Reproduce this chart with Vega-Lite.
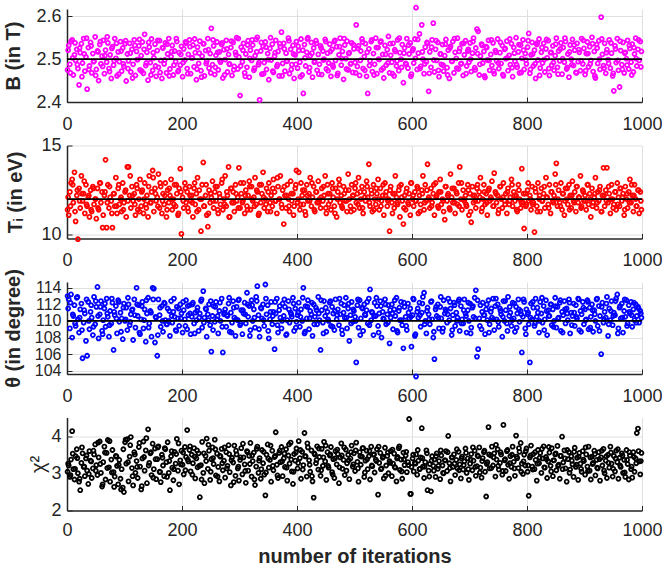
{
"$schema": "https://vega.github.io/schema/vega-lite/v6.json",
"background": "white",
"padding": {"left": 3, "top": 2, "right": 5, "bottom": 5},
"spacing": 43.5,
"bounds": "flush",
"config": {
  "view": {"stroke": null},
  "font": "Liberation Sans",
  "axis": {
    "labelFont": "Liberation Sans", "labelFontSize": 18, "labelColor": "#262626",
    "titleFont": "Liberation Sans", "titleFontSize": 20, "titleColor": "#262626", "titleFontWeight": "bold",
    "domainColor": "#262626", "domainWidth": 1.5, "tickColor": "#262626", "tickSize": -5, "tickWidth": 1,
    "gridColor": "#dfdfdf", "gridWidth": 1, "labelFlush": false, "labelBound": false, "grid": true, "tickCount": 12
  },
  "axisY": {"titleBaseline": "middle", "titleAngle": -90},
  "point": {"shape": "circle", "filled": false, "size": 16, "strokeWidth": 1.8, "opacity": 1}
},
"datasets": {"runs": [
{"i":1,"b":2.475,"t":11.4,"h":113.0,"c":3.05},{"i":3,"b":2.532,"t":11.1,"h":112.6,"c":3.22},{"i":5,"b":2.488,"t":12.4,"h":109.1,"c":2.91},{"i":7,"b":2.541,"t":12.9,"h":113.2,"c":3.38},{"i":9,"b":2.545,"t":13.1,"h":108.0,"c":4.15},
{"i":11,"b":2.463,"t":11.8,"h":110.6,"c":3.12},{"i":13,"b":2.510,"t":13.5,"h":111.9,"c":2.84},{"i":15,"b":2.497,"t":10.75,"h":109.4,"c":3.47},{"i":17,"b":2.523,"t":12.2,"h":112.8,"c":3.66},{"i":19,"b":2.478,"t":9.75,"h":110.2,"c":3.01},
{"i":21,"b":2.440,"t":12.6,"h":108.6,"c":2.78},{"i":23,"b":2.515,"t":11.5,"h":111.4,"c":2.55},{"i":25,"b":2.536,"t":13.3,"h":112.1,"c":3.29},{"i":27,"b":2.491,"t":11.9,"h":105.5,"c":3.55},{"i":29,"b":2.548,"t":12.3,"h":109.8,"c":3.18},
{"i":31,"b":2.472,"t":11.2,"h":110.9,"c":2.93},{"i":33,"b":2.505,"t":12.8,"h":107.6,"c":3.41},{"i":35,"b":2.430,"t":11.6,"h":105.8,"c":3.08},{"i":37,"b":2.527,"t":12.1,"h":112.3,"c":2.72},{"i":39,"b":2.484,"t":11.0,"h":109.0,"c":3.61},
{"i":41,"b":2.539,"t":12.5,"h":111.1,"c":3.35},{"i":43,"b":2.468,"t":11.3,"h":110.4,"c":2.88},{"i":45,"b":2.513,"t":12.7,"h":108.3,"c":3.14},{"i":47,"b":2.495,"t":11.7,"h":112.9,"c":3.52},{"i":49,"b":2.552,"t":12.0,"h":109.6,"c":3.79},
{"i":51,"b":2.476,"t":10.9,"h":111.7,"c":3.23},{"i":53,"b":2.519,"t":12.6,"h":114.1,"c":2.96},{"i":55,"b":2.450,"t":11.4,"h":107.9,"c":3.44},{"i":57,"b":2.534,"t":12.9,"h":110.8,"c":3.87},{"i":59,"b":2.489,"t":11.8,"h":112.4,"c":3.02},
{"i":61,"b":2.507,"t":12.4,"h":108.8,"c":2.65},{"i":63,"b":2.544,"t":11.1,"h":110.1,"c":3.31},{"i":65,"b":2.466,"t":12.2,"h":111.5,"c":3.73},{"i":67,"b":2.521,"t":14.2,"h":109.3,"c":2.84},{"i":69,"b":2.493,"t":10.4,"h":112.7,"c":3.56},
{"i":71,"b":2.538,"t":12.8,"h":110.5,"c":3.91},{"i":73,"b":2.478,"t":11.5,"h":108.1,"c":3.17},{"i":75,"b":2.510,"t":12.1,"h":111.2,"c":2.78},{"i":77,"b":2.455,"t":11.9,"h":109.7,"c":3.38},{"i":79,"b":2.529,"t":10.4,"h":112.2,"c":3.64},
{"i":81,"b":2.486,"t":12.3,"h":106.5,"c":3.04},{"i":83,"b":2.548,"t":11.6,"h":110.7,"c":2.92},{"i":85,"b":2.502,"t":13.2,"h":111.8,"c":3.48},{"i":87,"b":2.461,"t":11.2,"h":108.5,"c":3.21},{"i":89,"b":2.517,"t":12.6,"h":112.5,"c":2.71},
{"i":91,"b":2.494,"t":11.7,"h":109.9,"c":3.37},{"i":93,"b":2.541,"t":12.0,"h":111.0,"c":2.86},{"i":95,"b":2.472,"t":11.3,"h":110.3,"c":3.12},{"i":97,"b":2.526,"t":12.9,"h":107.8,"c":2.62},{"i":99,"b":2.483,"t":11.8,"h":112.1,"c":2.50},
{"i":101,"b":2.536,"t":12.4,"h":110.0,"c":3.85},{"i":103,"b":2.449,"t":11.0,"h":111.6,"c":3.27},{"i":105,"b":2.512,"t":13.8,"h":108.9,"c":3.93},{"i":107,"b":2.496,"t":13.8,"h":112.0,"c":2.79},{"i":109,"b":2.537,"t":12.2,"h":109.5,"c":3.46},
{"i":111,"b":2.470,"t":11.5,"h":110.8,"c":3.99},{"i":113,"b":2.523,"t":12.7,"h":111.3,"c":3.15},{"i":115,"b":2.488,"t":11.9,"h":107.7,"c":2.68},{"i":117,"b":2.545,"t":12.3,"h":112.6,"c":3.58},{"i":119,"b":2.462,"t":11.1,"h":109.2,"c":3.02},
{"i":121,"b":2.518,"t":12.8,"h":114.0,"c":3.34},{"i":123,"b":2.499,"t":11.4,"h":110.6,"c":2.88},{"i":125,"b":2.531,"t":12.0,"h":111.9,"c":3.72},{"i":127,"b":2.475,"t":13.1,"h":108.4,"c":3.19},{"i":129,"b":2.508,"t":11.6,"h":110.2,"c":2.57},
{"i":131,"b":2.540,"t":12.5,"h":112.3,"c":3.41},{"i":133,"b":2.467,"t":11.2,"h":109.1,"c":3.87},{"i":135,"b":2.558,"t":12.9,"h":111.4,"c":3.08},{"i":137,"b":2.485,"t":11.7,"h":107.5,"c":3.63},{"i":139,"b":2.516,"t":12.2,"h":110.9,"c":2.74},
{"i":141,"b":2.451,"t":11.0,"h":112.8,"c":4.20},{"i":143,"b":2.528,"t":13.3,"h":109.7,"c":3.29},{"i":145,"b":2.492,"t":11.8,"h":111.2,"c":3.55},{"i":147,"b":2.547,"t":12.4,"h":108.1,"c":2.96},{"i":149,"b":2.474,"t":13.6,"h":114.0,"c":3.81},
{"i":151,"b":2.503,"t":11.3,"h":113.9,"c":3.12},{"i":153,"b":2.535,"t":12.6,"h":107.4,"c":3.68},{"i":155,"b":2.460,"t":11.9,"h":110.4,"c":2.85},{"i":157,"b":2.520,"t":12.1,"h":105.8,"c":3.39},{"i":159,"b":2.481,"t":13.4,"h":112.6,"c":3.74},
{"i":161,"b":2.543,"t":11.5,"h":110.7,"c":3.05},{"i":163,"b":2.497,"t":12.7,"h":109.3,"c":2.77},{"i":165,"b":2.455,"t":11.2,"h":111.8,"c":3.51},{"i":167,"b":2.526,"t":12.3,"h":108.7,"c":3.22},{"i":169,"b":2.489,"t":11.7,"h":112.2,"c":2.93},
{"i":171,"b":2.538,"t":12.9,"h":110.1,"c":3.66},{"i":173,"b":2.468,"t":11.0,"h":109.6,"c":3.31},{"i":175,"b":2.512,"t":12.5,"h":111.5,"c":3.85},{"i":177,"b":2.548,"t":11.8,"h":110.0,"c":3.02},{"i":179,"b":2.477,"t":12.2,"h":108.2,"c":2.55},
{"i":181,"b":2.506,"t":13.1,"h":112.4,"c":3.47},{"i":183,"b":2.532,"t":11.4,"h":109.8,"c":3.16},{"i":185,"b":2.463,"t":12.0,"h":111.1,"c":2.82},{"i":187,"b":2.519,"t":12.8,"h":110.5,"c":3.59},{"i":189,"b":2.494,"t":11.6,"h":108.9,"c":3.27},
{"i":191,"b":2.541,"t":12.3,"h":111.7,"c":3.94},{"i":193,"b":2.471,"t":11.1,"h":110.3,"c":3.08},{"i":195,"b":2.515,"t":12.6,"h":109.4,"c":2.71},{"i":197,"b":2.486,"t":13.7,"h":112.0,"c":3.36},{"i":199,"b":2.530,"t":10.05,"h":110.9,"c":3.62},
{"i":201,"b":2.459,"t":12.1,"h":108.6,"c":3.24},{"i":203,"b":2.524,"t":11.5,"h":111.3,"c":2.98},{"i":205,"b":2.498,"t":12.9,"h":110.2,"c":3.72},{"i":207,"b":2.537,"t":11.8,"h":112.5,"c":3.45},{"i":209,"b":2.478,"t":12.4,"h":109.0,"c":4.18},
{"i":211,"b":2.511,"t":11.3,"h":110.7,"c":3.33},{"i":213,"b":2.545,"t":12.7,"h":111.9,"c":3.64},{"i":215,"b":2.466,"t":11.9,"h":108.4,"c":3.06},{"i":217,"b":2.503,"t":12.2,"h":110.5,"c":3.51},{"i":219,"b":2.533,"t":11.0,"h":112.2,"c":3.28},
{"i":221,"b":2.482,"t":12.6,"h":109.7,"c":3.69},{"i":223,"b":2.515,"t":11.7,"h":111.0,"c":2.87},{"i":225,"b":2.452,"t":12.3,"h":110.1,"c":3.41},{"i":227,"b":2.528,"t":13.2,"h":111.6,"c":3.17},{"i":229,"b":2.490,"t":11.4,"h":108.8,"c":3.55},
{"i":231,"b":2.542,"t":12.0,"h":110.9,"c":2.36},{"i":233,"b":2.473,"t":10.2,"h":112.4,"c":3.23},{"i":235,"b":2.507,"t":12.8,"h":109.2,"c":3.86},{"i":237,"b":2.536,"t":14.05,"h":113.6,"c":3.02},{"i":239,"b":2.461,"t":11.6,"h":110.4,"c":2.74},
{"i":241,"b":2.520,"t":12.2,"h":111.5,"c":3.48},{"i":243,"b":2.495,"t":11.1,"h":108.1,"c":3.95},{"i":245,"b":2.548,"t":10.45,"h":110.8,"c":3.13},{"i":247,"b":2.479,"t":12.5,"h":112.0,"c":3.62},{"i":249,"b":2.513,"t":11.8,"h":109.5,"c":2.83},
{"i":251,"b":2.572,"t":12.1,"h":106.3,"c":3.39},{"i":253,"b":2.487,"t":13.0,"h":110.6,"c":3.71},{"i":255,"b":2.531,"t":11.5,"h":111.8,"c":3.26},{"i":257,"b":2.464,"t":12.4,"h":109.9,"c":3.92},{"i":259,"b":2.509,"t":11.9,"h":112.3,"c":2.95},
{"i":261,"b":2.540,"t":12.7,"h":110.2,"c":3.54},{"i":263,"b":2.475,"t":11.2,"h":108.5,"c":3.18},{"i":265,"b":2.517,"t":12.3,"h":111.2,"c":2.79},{"i":267,"b":2.493,"t":11.7,"h":110.0,"c":3.46},{"i":269,"b":2.534,"t":12.9,"h":112.7,"c":3.67},
{"i":271,"b":2.456,"t":11.4,"h":106.2,"c":3.09},{"i":273,"b":2.522,"t":12.0,"h":110.8,"c":3.35},{"i":275,"b":2.499,"t":13.3,"h":111.4,"c":2.89},{"i":277,"b":2.544,"t":11.6,"h":109.3,"c":3.58},{"i":279,"b":2.470,"t":12.2,"h":110.6,"c":3.21},
{"i":281,"b":2.511,"t":13.8,"h":112.1,"c":3.77},{"i":283,"b":2.488,"t":11.0,"h":108.7,"c":3.04},{"i":285,"b":2.527,"t":12.6,"h":111.0,"c":2.68},{"i":287,"b":2.462,"t":11.8,"h":109.8,"c":3.43},{"i":289,"b":2.539,"t":12.4,"h":112.4,"c":3.30},
{"i":291,"b":2.483,"t":11.3,"h":110.4,"c":3.76},{"i":293,"b":2.516,"t":12.8,"h":108.2,"c":2.94},{"i":295,"b":2.550,"t":11.9,"h":111.7,"c":3.52},{"i":297,"b":2.477,"t":12.1,"h":110.1,"c":3.14},{"i":299,"b":2.505,"t":13.75,"h":112.6,"c":2.81},
{"i":301,"b":2.415,"t":11.5,"h":109.5,"c":3.37},{"i":303,"b":2.528,"t":12.3,"h":111.3,"c":3.69},{"i":305,"b":2.494,"t":11.8,"h":108.4,"c":2.98},{"i":307,"b":2.537,"t":12.9,"h":110.9,"c":3.44},{"i":309,"b":2.468,"t":11.2,"h":112.2,"c":3.25},
{"i":311,"b":2.512,"t":12.5,"h":109.7,"c":2.75},{"i":313,"b":2.481,"t":11.6,"h":113.4,"c":3.61},{"i":315,"b":2.543,"t":12.2,"h":110.5,"c":3.08},{"i":317,"b":2.458,"t":13.0,"h":111.8,"c":3.48},{"i":319,"b":2.521,"t":11.4,"h":108.9,"c":3.83},
{"i":321,"b":2.497,"t":12.7,"h":112.5,"c":2.92},{"i":323,"b":2.533,"t":11.9,"h":110.0,"c":3.34},{"i":325,"b":2.474,"t":12.1,"h":111.4,"c":3.57},{"i":327,"b":2.508,"t":13.2,"h":109.2,"c":2.69},{"i":329,"b":2.546,"t":11.7,"h":112.9,"c":3.19},
{"i":331,"b":2.551,"t":12.4,"h":114.2,"c":3.73},{"i":333,"b":2.487,"t":11.1,"h":110.7,"c":3.02},{"i":335,"b":2.405,"t":12.8,"h":108.1,"c":3.42},{"i":337,"b":2.519,"t":11.8,"h":111.6,"c":2.86},{"i":339,"b":2.465,"t":12.3,"h":110.3,"c":3.64},
{"i":341,"b":2.530,"t":13.5,"h":112.0,"c":3.28},{"i":343,"b":2.492,"t":11.5,"h":109.4,"c":2.97},{"i":345,"b":2.540,"t":12.0,"h":114.4,"c":2.41},{"i":347,"b":2.476,"t":12.6,"h":110.8,"c":3.51},{"i":349,"b":2.513,"t":11.3,"h":111.9,"c":3.79},
{"i":351,"b":2.452,"t":12.9,"h":107.9,"c":3.16},{"i":353,"b":2.525,"t":11.8,"h":110.2,"c":3.37},{"i":355,"b":2.498,"t":12.2,"h":112.3,"c":2.78},{"i":357,"b":2.535,"t":11.6,"h":109.6,"c":3.62},{"i":359,"b":2.469,"t":13.1,"h":111.1,"c":3.09},
{"i":361,"b":2.507,"t":12.4,"h":106.6,"c":3.45},{"i":363,"b":2.544,"t":11.9,"h":110.9,"c":4.12},{"i":365,"b":2.483,"t":11.2,"h":112.7,"c":3.24},{"i":367,"b":2.518,"t":12.7,"h":108.6,"c":2.88},{"i":369,"b":2.461,"t":12.0,"h":111.3,"c":3.56},
{"i":371,"b":2.529,"t":13.3,"h":110.4,"c":3.31},{"i":373,"b":2.563,"t":11.7,"h":109.1,"c":3.72},{"i":375,"b":2.490,"t":12.5,"h":112.1,"c":2.93},{"i":377,"b":2.537,"t":10.6,"h":110.6,"c":3.41},{"i":379,"b":2.472,"t":12.2,"h":111.7,"c":3.18},
{"i":381,"b":2.514,"t":11.5,"h":108.3,"c":3.66},{"i":383,"b":2.496,"t":12.8,"h":110.1,"c":2.81},{"i":385,"b":2.549,"t":12.0,"h":112.4,"c":3.49},{"i":387,"b":2.466,"t":11.3,"h":109.8,"c":3.27},{"i":389,"b":2.523,"t":13.0,"h":111.0,"c":3.84},
{"i":391,"b":2.487,"t":11.9,"h":110.5,"c":3.06},{"i":393,"b":2.532,"t":12.3,"h":112.8,"c":2.72},{"i":395,"b":2.455,"t":11.6,"h":108.8,"c":3.53},{"i":397,"b":2.510,"t":12.6,"h":111.5,"c":3.35},{"i":399,"b":2.541,"t":13.6,"h":109.9,"c":3.68},
{"i":401,"b":2.479,"t":11.8,"h":110.7,"c":3.14},{"i":403,"b":2.520,"t":13.5,"h":112.2,"c":3.88},{"i":405,"b":2.493,"t":11.4,"h":109.3,"c":3.42},{"i":407,"b":2.547,"t":12.9,"h":111.4,"c":2.86},{"i":409,"b":2.463,"t":12.2,"h":110.0,"c":3.59},
{"i":411,"b":2.420,"t":11.7,"h":114.0,"c":3.23},{"i":413,"b":2.534,"t":12.5,"h":108.5,"c":4.10},{"i":415,"b":2.484,"t":11.1,"h":111.8,"c":3.47},{"i":417,"b":2.516,"t":12.8,"h":110.3,"c":2.92},{"i":419,"b":2.550,"t":11.9,"h":112.5,"c":3.71},
{"i":421,"b":2.470,"t":12.3,"h":109.0,"c":3.36},{"i":423,"b":2.508,"t":13.2,"h":111.2,"c":3.05},{"i":425,"b":2.539,"t":11.6,"h":110.8,"c":3.63},{"i":427,"b":2.458,"t":12.1,"h":108.2,"c":2.79},{"i":429,"b":2.526,"t":12.7,"h":112.0,"c":2.35},
{"i":431,"b":2.495,"t":11.3,"h":110.5,"c":3.52},{"i":433,"b":2.543,"t":12.4,"h":111.6,"c":3.28},{"i":435,"b":2.474,"t":11.8,"h":109.6,"c":3.74},{"i":437,"b":2.511,"t":13.0,"h":112.9,"c":3.11},{"i":439,"b":2.488,"t":12.0,"h":110.1,"c":3.45},
{"i":441,"b":2.531,"t":11.5,"h":106.5,"c":2.94},{"i":443,"b":2.464,"t":12.6,"h":111.3,"c":3.67},{"i":445,"b":2.519,"t":11.9,"h":109.8,"c":3.21},{"i":447,"b":2.500,"t":12.2,"h":112.4,"c":3.86},{"i":449,"b":2.546,"t":13.3,"h":110.6,"c":3.33},
{"i":451,"b":2.477,"t":11.2,"h":108.7,"c":2.83},{"i":453,"b":2.514,"t":12.8,"h":111.1,"c":3.58},{"i":455,"b":2.491,"t":11.7,"h":110.0,"c":3.16},{"i":457,"b":2.535,"t":12.3,"h":112.2,"c":3.49},{"i":459,"b":2.460,"t":11.4,"h":109.4,"c":3.72},
{"i":461,"b":2.523,"t":12.9,"h":111.7,"c":3.04},{"i":463,"b":2.482,"t":12.1,"h":110.9,"c":3.39},{"i":465,"b":2.541,"t":11.6,"h":108.9,"c":2.88},{"i":467,"b":2.497,"t":12.6,"h":112.6,"c":3.61},{"i":469,"b":2.529,"t":11.0,"h":110.2,"c":3.25},
{"i":471,"b":2.467,"t":12.4,"h":111.4,"c":3.53},{"i":473,"b":2.510,"t":13.1,"h":109.5,"c":2.74},{"i":475,"b":2.549,"t":11.8,"h":110.8,"c":3.44},{"i":477,"b":2.486,"t":12.2,"h":112.1,"c":3.82},{"i":479,"b":2.518,"t":11.5,"h":108.4,"c":3.13},
{"i":481,"b":2.453,"t":12.7,"h":111.0,"c":3.37},{"i":483,"b":2.533,"t":11.9,"h":110.4,"c":2.96},{"i":485,"b":2.501,"t":12.5,"h":112.8,"c":3.65},{"i":487,"b":2.542,"t":11.3,"h":109.1,"c":3.28},{"i":489,"b":2.475,"t":13.4,"h":111.5,"c":3.51},
{"i":491,"b":2.515,"t":12.0,"h":107.6,"c":2.85},{"i":493,"b":2.489,"t":11.6,"h":110.7,"c":3.41},{"i":495,"b":2.538,"t":12.8,"h":112.3,"c":3.76},{"i":497,"b":2.469,"t":12.2,"h":109.9,"c":3.19},{"i":499,"b":2.524,"t":11.4,"h":111.2,"c":3.55},
{"i":501,"b":2.492,"t":12.6,"h":110.5,"c":3.07},{"i":503,"b":2.580,"t":11.8,"h":105.0,"c":3.84},{"i":505,"b":2.483,"t":12.3,"h":111.9,"c":3.32},{"i":507,"b":2.531,"t":13.2,"h":109.2,"c":2.78},{"i":509,"b":2.462,"t":11.5,"h":112.5,"c":3.58},
{"i":511,"b":2.519,"t":12.0,"h":110.3,"c":3.24},{"i":513,"b":2.547,"t":12.7,"h":111.6,"c":3.46},{"i":515,"b":2.478,"t":11.2,"h":108.8,"c":3.69},{"i":517,"b":2.506,"t":12.4,"h":112.0,"c":2.91},{"i":519,"b":2.536,"t":11.9,"h":110.7,"c":3.35},
{"i":521,"b":2.460,"t":13.0,"h":111.3,"c":3.62},{"i":523,"b":2.420,"t":12.1,"h":109.7,"c":3.12},{"i":525,"b":2.524,"t":13.95,"h":112.7,"c":3.47},{"i":527,"b":2.496,"t":11.6,"h":113.8,"c":2.84},{"i":529,"b":2.541,"t":12.5,"h":110.1,"c":3.73},
{"i":531,"b":2.471,"t":11.3,"h":111.0,"c":3.20},{"i":533,"b":2.513,"t":12.8,"h":108.3,"c":3.51},{"i":535,"b":2.488,"t":12.0,"h":112.2,"c":3.03},{"i":537,"b":2.549,"t":11.7,"h":110.6,"c":3.38},{"i":539,"b":2.466,"t":12.3,"h":111.8,"c":3.66},
{"i":541,"b":2.527,"t":13.1,"h":109.4,"c":2.43},{"i":543,"b":2.499,"t":11.4,"h":110.9,"c":3.29},{"i":545,"b":2.540,"t":12.6,"h":112.4,"c":3.56},{"i":547,"b":2.475,"t":11.9,"h":108.0,"c":3.14},{"i":549,"b":2.511,"t":12.2,"h":111.1,"c":3.43},
{"i":551,"b":2.456,"t":11.1,"h":110.2,"c":2.87},{"i":553,"b":2.532,"t":12.9,"h":112.6,"c":3.70},{"i":555,"b":2.486,"t":12.4,"h":109.6,"c":3.22},{"i":557,"b":2.522,"t":11.6,"h":110.8,"c":3.48},{"i":559,"b":2.553,"t":12.0,"h":111.9,"c":3.01},
{"i":561,"b":2.468,"t":10.2,"h":107.3,"c":3.34},{"i":563,"b":2.509,"t":12.7,"h":110.4,"c":3.61},{"i":565,"b":2.493,"t":11.8,"h":112.0,"c":2.93},{"i":567,"b":2.537,"t":12.3,"h":109.0,"c":3.27},{"i":569,"b":2.461,"t":11.5,"h":111.4,"c":3.54},
{"i":571,"b":2.518,"t":13.3,"h":110.6,"c":3.16},{"i":573,"b":2.484,"t":12.1,"h":112.8,"c":2.79},{"i":575,"b":2.545,"t":11.7,"h":108.6,"c":3.45},{"i":577,"b":2.473,"t":12.5,"h":111.2,"c":3.69},{"i":579,"b":2.515,"t":11.0,"h":110.1,"c":3.10},
{"i":581,"b":2.500,"t":12.8,"h":112.3,"c":3.38},{"i":583,"b":2.534,"t":11.9,"h":109.5,"c":2.86},{"i":585,"b":2.445,"t":10.6,"h":106.7,"c":3.57},{"i":587,"b":2.526,"t":12.2,"h":111.7,"c":3.23},{"i":589,"b":2.490,"t":11.4,"h":110.5,"c":3.49},
{"i":591,"b":2.548,"t":12.6,"h":108.9,"c":3.04},{"i":593,"b":2.479,"t":11.8,"h":112.1,"c":3.31},{"i":595,"b":2.512,"t":12.3,"h":110.3,"c":4.48},{"i":597,"b":2.538,"t":11.1,"h":111.5,"c":2.45},{"i":599,"b":2.465,"t":12.9,"h":106.9,"c":3.18},
{"i":601,"b":2.520,"t":12.0,"h":110.7,"c":3.41},{"i":603,"b":2.491,"t":11.6,"h":112.6,"c":3.06},{"i":605,"b":2.547,"t":12.4,"h":108.2,"c":3.29},{"i":607,"b":2.620,"t":11.9,"h":103.3,"c":3.52},{"i":609,"b":2.476,"t":12.7,"h":111.1,"c":2.97},
{"i":611,"b":2.514,"t":11.2,"h":110.4,"c":3.35},{"i":613,"b":2.559,"t":12.2,"h":112.2,"c":3.12},{"i":615,"b":2.483,"t":11.7,"h":109.3,"c":3.44},{"i":617,"b":2.580,"t":12.5,"h":111.0,"c":4.23},{"i":619,"b":2.500,"t":13.3,"h":112.9,"c":3.19},
{"i":621,"b":2.466,"t":11.4,"h":113.4,"c":2.88},{"i":623,"b":2.528,"t":12.8,"h":110.0,"c":3.31},{"i":625,"b":2.494,"t":11.9,"h":108.5,"c":3.63},{"i":627,"b":2.537,"t":13.95,"h":111.6,"c":2.55},{"i":629,"b":2.425,"t":12.1,"h":110.8,"c":3.08},
{"i":631,"b":2.517,"t":11.5,"h":109.6,"c":3.26},{"i":633,"b":2.481,"t":12.6,"h":112.3,"c":2.52},{"i":635,"b":2.545,"t":11.8,"h":110.2,"c":3.47},{"i":637,"b":2.584,"t":12.3,"h":108.0,"c":3.21},{"i":639,"b":2.470,"t":11.1,"h":105.4,"c":3.38},
{"i":641,"b":2.523,"t":12.9,"h":111.4,"c":2.91},{"i":643,"b":2.497,"t":12.2,"h":110.6,"c":3.55},{"i":645,"b":2.539,"t":11.6,"h":112.0,"c":3.13},{"i":647,"b":2.459,"t":12.4,"h":109.1,"c":3.34},{"i":649,"b":2.512,"t":13.1,"h":111.7,"c":2.85},
{"i":651,"b":2.488,"t":11.7,"h":110.3,"c":3.49},{"i":653,"b":2.534,"t":12.0,"h":108.7,"c":3.22},{"i":655,"b":2.472,"t":11.3,"h":112.5,"c":3.01},{"i":657,"b":2.508,"t":10.85,"h":110.9,"c":3.36},{"i":659,"b":2.546,"t":12.7,"h":111.2,"c":3.61},
{"i":661,"b":2.480,"t":11.9,"h":109.8,"c":3.07},{"i":663,"b":2.521,"t":12.3,"h":112.7,"c":4.02},{"i":665,"b":2.455,"t":11.5,"h":110.1,"c":3.28},{"i":667,"b":2.530,"t":13.4,"h":111.5,"c":2.79},{"i":669,"b":2.495,"t":12.1,"h":108.3,"c":3.44},
{"i":671,"b":2.541,"t":11.8,"h":110.7,"c":3.18},{"i":673,"b":2.468,"t":12.6,"h":112.2,"c":3.52},{"i":675,"b":2.516,"t":11.2,"h":109.4,"c":2.96},{"i":677,"b":2.502,"t":12.4,"h":111.0,"c":3.37},{"i":679,"b":2.549,"t":11.7,"h":110.4,"c":3.14},
{"i":681,"b":2.477,"t":12.9,"h":112.4,"c":3.59},{"i":683,"b":2.525,"t":13.8,"h":108.8,"c":3.25},{"i":685,"b":2.489,"t":12.0,"h":111.8,"c":2.87},{"i":687,"b":2.536,"t":11.4,"h":110.2,"c":3.46},{"i":689,"b":2.462,"t":12.5,"h":109.7,"c":3.11},
{"i":691,"b":2.510,"t":11.9,"h":112.6,"c":3.33},{"i":693,"b":2.543,"t":12.2,"h":110.9,"c":3.68},{"i":695,"b":2.484,"t":11.6,"h":108.6,"c":3.02},{"i":697,"b":2.519,"t":12.8,"h":111.3,"c":3.41},{"i":699,"b":2.493,"t":11.1,"h":110.0,"c":2.83},
{"i":701,"b":2.538,"t":12.3,"h":112.1,"c":3.27},{"i":703,"b":2.471,"t":10.7,"h":109.2,"c":3.53},{"i":705,"b":2.514,"t":12.7,"h":111.6,"c":3.09},{"i":707,"b":2.549,"t":11.8,"h":110.5,"c":3.35},{"i":709,"b":2.480,"t":12.2,"h":112.8,"c":3.62},
{"i":711,"b":2.526,"t":11.5,"h":113.7,"c":2.94},{"i":713,"b":2.570,"t":12.6,"h":105.7,"c":3.20},{"i":715,"b":2.565,"t":11.9,"h":106.6,"c":3.47},{"i":717,"b":2.463,"t":12.4,"h":110.3,"c":3.71},{"i":719,"b":2.507,"t":13.2,"h":111.9,"c":3.16},
{"i":721,"b":2.535,"t":11.3,"h":109.0,"c":2.89},{"i":723,"b":2.491,"t":12.0,"h":112.2,"c":3.42},{"i":725,"b":2.518,"t":12.8,"h":110.7,"c":3.58},{"i":727,"b":2.457,"t":11.7,"h":108.4,"c":3.05},{"i":729,"b":2.529,"t":12.3,"h":111.4,"c":2.38},
{"i":731,"b":2.498,"t":11.1,"h":110.1,"c":3.31},{"i":733,"b":2.544,"t":12.5,"h":112.5,"c":4.26},{"i":735,"b":2.474,"t":11.9,"h":109.6,"c":3.14},{"i":737,"b":2.511,"t":12.1,"h":111.1,"c":3.49},{"i":739,"b":2.485,"t":13.0,"h":110.4,"c":3.73},
{"i":741,"b":2.538,"t":11.6,"h":112.7,"c":3.22},{"i":743,"b":2.466,"t":13.45,"h":108.9,"c":3.55},{"i":745,"b":2.520,"t":12.4,"h":111.8,"c":2.92},{"i":747,"b":2.496,"t":11.8,"h":110.2,"c":3.38},{"i":749,"b":2.547,"t":12.2,"h":112.0,"c":3.66},
{"i":751,"b":2.478,"t":11.4,"h":109.3,"c":3.11},{"i":753,"b":2.515,"t":12.7,"h":111.5,"c":3.29},{"i":755,"b":2.490,"t":12.0,"h":110.8,"c":3.52},{"i":757,"b":2.532,"t":11.5,"h":108.1,"c":2.97},{"i":759,"b":2.461,"t":12.9,"h":112.4,"c":4.32},
{"i":761,"b":2.523,"t":11.9,"h":110.0,"c":3.36},{"i":763,"b":2.501,"t":12.3,"h":111.3,"c":3.07},{"i":765,"b":2.542,"t":11.2,"h":109.7,"c":3.61},{"i":767,"b":2.473,"t":12.6,"h":112.9,"c":3.24},{"i":769,"b":2.509,"t":11.7,"h":110.6,"c":2.86},
{"i":771,"b":2.487,"t":12.1,"h":111.0,"c":3.47},{"i":773,"b":2.536,"t":13.1,"h":109.4,"c":3.18},{"i":775,"b":2.459,"t":11.6,"h":112.2,"c":3.73},{"i":777,"b":2.527,"t":12.4,"h":110.3,"c":3.32},{"i":779,"b":2.495,"t":11.9,"h":108.7,"c":2.94},
{"i":781,"b":2.550,"t":12.2,"h":111.7,"c":4.03},{"i":783,"b":2.481,"t":11.3,"h":110.9,"c":3.42},{"i":785,"b":2.517,"t":12.8,"h":112.6,"c":3.15},{"i":787,"b":2.468,"t":12.0,"h":109.9,"c":3.59},{"i":789,"b":2.533,"t":11.5,"h":111.2,"c":3.83},
{"i":791,"b":2.502,"t":13.7,"h":106.2,"c":3.27},{"i":793,"b":2.545,"t":11.8,"h":110.5,"c":2.99},{"i":795,"b":2.476,"t":10.35,"h":112.3,"c":3.51},{"i":797,"b":2.513,"t":12.3,"h":109.1,"c":3.22},{"i":799,"b":2.489,"t":11.7,"h":111.4,"c":3.68},
{"i":801,"b":2.528,"t":12.5,"h":110.8,"c":3.05},{"i":803,"b":2.560,"t":11.9,"h":109.6,"c":2.40},{"i":805,"b":2.467,"t":12.2,"h":105.0,"c":3.44},{"i":807,"b":2.510,"t":11.4,"h":112.1,"c":3.76},{"i":809,"b":2.539,"t":12.7,"h":110.2,"c":3.19},
{"i":811,"b":2.484,"t":11.8,"h":111.6,"c":3.53},{"i":813,"b":2.521,"t":10.15,"h":109.4,"c":3.12},{"i":815,"b":2.455,"t":12.4,"h":112.7,"c":3.37},{"i":817,"b":2.534,"t":11.6,"h":110.5,"c":2.81},{"i":819,"b":2.498,"t":12.9,"h":111.0,"c":3.64},
{"i":821,"b":2.547,"t":12.0,"h":108.6,"c":3.28},{"i":823,"b":2.479,"t":11.3,"h":112.3,"c":3.56},{"i":825,"b":2.516,"t":12.6,"h":110.9,"c":3.02},{"i":827,"b":2.491,"t":11.9,"h":109.8,"c":3.41},{"i":829,"b":2.537,"t":12.3,"h":111.8,"c":3.74},
{"i":831,"b":2.470,"t":11.5,"h":110.2,"c":3.16},{"i":833,"b":2.524,"t":13.2,"h":112.5,"c":3.45},{"i":835,"b":2.503,"t":12.1,"h":108.3,"c":2.88},{"i":837,"b":2.543,"t":11.7,"h":111.3,"c":3.33},{"i":839,"b":2.462,"t":12.8,"h":110.6,"c":3.57},
{"i":841,"b":2.515,"t":11.2,"h":112.0,"c":3.21},{"i":843,"b":2.486,"t":12.4,"h":109.5,"c":3.69},{"i":845,"b":2.531,"t":11.9,"h":111.4,"c":2.93},{"i":847,"b":2.474,"t":12.2,"h":110.0,"c":3.36},{"i":849,"b":2.508,"t":13.4,"h":112.8,"c":3.52},
{"i":851,"b":2.549,"t":14.0,"h":109.2,"c":3.09},{"i":853,"b":2.481,"t":11.6,"h":111.7,"c":3.75},{"i":855,"b":2.519,"t":12.5,"h":110.4,"c":3.24},{"i":857,"b":2.496,"t":11.8,"h":112.2,"c":2.86},{"i":859,"b":2.538,"t":12.9,"h":108.8,"c":3.48},
{"i":861,"b":2.465,"t":11.4,"h":111.1,"c":4.00},{"i":863,"b":2.527,"t":12.3,"h":110.7,"c":3.30},{"i":865,"b":2.493,"t":11.1,"h":112.4,"c":3.63},{"i":867,"b":2.541,"t":12.6,"h":109.7,"c":3.14},{"i":869,"b":2.477,"t":12.0,"h":111.5,"c":2.78},
{"i":871,"b":2.512,"t":11.7,"h":110.1,"c":3.39},{"i":873,"b":2.458,"t":12.8,"h":112.6,"c":3.58},{"i":875,"b":2.533,"t":12.2,"h":108.5,"c":3.11},{"i":877,"b":2.500,"t":11.5,"h":111.0,"c":3.47},{"i":879,"b":2.546,"t":13.0,"h":110.6,"c":3.25},
{"i":881,"b":2.485,"t":11.9,"h":112.1,"c":2.91},{"i":883,"b":2.521,"t":12.4,"h":109.4,"c":3.70},{"i":885,"b":2.469,"t":11.3,"h":111.9,"c":3.18},{"i":887,"b":2.537,"t":12.7,"h":110.3,"c":3.43},{"i":889,"b":2.494,"t":11.8,"h":112.7,"c":2.83},
{"i":891,"b":2.516,"t":12.1,"h":108.9,"c":3.56},{"i":893,"b":2.473,"t":13.3,"h":111.2,"c":3.27},{"i":895,"b":2.548,"t":11.6,"h":110.8,"c":3.05},{"i":897,"b":2.489,"t":12.5,"h":112.3,"c":3.61},{"i":899,"b":2.525,"t":11.9,"h":109.6,"c":3.34},
{"i":901,"b":2.464,"t":12.2,"h":111.4,"c":2.97},{"i":903,"b":2.513,"t":11.4,"h":110.2,"c":3.52},{"i":905,"b":2.540,"t":12.8,"h":112.5,"c":3.19},{"i":907,"b":2.482,"t":11.7,"h":109.0,"c":3.73},{"i":909,"b":2.529,"t":12.3,"h":111.6,"c":3.08},
{"i":911,"b":2.497,"t":11.0,"h":110.5,"c":2.84},{"i":913,"b":2.551,"t":12.6,"h":112.0,"c":3.46},{"i":915,"b":2.471,"t":11.8,"h":108.7,"c":3.29},{"i":917,"b":2.518,"t":12.1,"h":111.3,"c":3.62},{"i":919,"b":2.456,"t":13.2,"h":110.0,"c":2.95},
{"i":921,"b":2.534,"t":11.5,"h":112.6,"c":3.37},{"i":923,"b":2.490,"t":12.4,"h":109.4,"c":3.14},{"i":925,"b":2.543,"t":11.9,"h":111.8,"c":3.58},{"i":927,"b":2.476,"t":12.7,"h":110.6,"c":2.81},{"i":929,"b":2.598,"t":11.3,"h":106.0,"c":3.44},
{"i":931,"b":2.511,"t":12.2,"h":112.2,"c":3.22},{"i":933,"b":2.485,"t":13.75,"h":109.8,"c":3.67},{"i":935,"b":2.537,"t":11.6,"h":111.1,"c":3.01},{"i":937,"b":2.467,"t":12.5,"h":110.4,"c":3.35},{"i":939,"b":2.522,"t":13.75,"h":112.9,"c":2.88},
{"i":941,"b":2.499,"t":11.8,"h":108.2,"c":3.51},{"i":943,"b":2.545,"t":12.3,"h":111.5,"c":3.16},{"i":945,"b":2.479,"t":11.2,"h":110.1,"c":3.73},{"i":947,"b":2.514,"t":12.8,"h":112.4,"c":3.27},{"i":949,"b":2.461,"t":12.0,"h":109.5,"c":2.92},
{"i":951,"b":2.426,"t":11.7,"h":111.0,"c":3.48},{"i":953,"b":2.531,"t":12.4,"h":110.7,"c":3.06},{"i":955,"b":2.492,"t":11.4,"h":112.7,"c":3.62},{"i":957,"b":2.548,"t":12.9,"h":113.2,"c":3.31},{"i":959,"b":2.474,"t":12.1,"h":109.1,"c":2.86},
{"i":961,"b":2.435,"t":11.6,"h":111.6,"c":3.43},{"i":963,"b":2.520,"t":12.6,"h":110.3,"c":3.18},{"i":965,"b":2.487,"t":11.9,"h":112.1,"c":3.55},{"i":967,"b":2.539,"t":12.3,"h":108.6,"c":3.02},{"i":969,"b":2.468,"t":11.1,"h":111.2,"c":3.37},
{"i":971,"b":2.516,"t":12.7,"h":110.5,"c":2.91},{"i":973,"b":2.501,"t":12.0,"h":112.5,"c":3.64},{"i":975,"b":2.544,"t":11.5,"h":109.7,"c":3.26},{"i":977,"b":2.477,"t":12.4,"h":111.9,"c":2.84},{"i":979,"b":2.525,"t":13.1,"h":110.9,"c":3.49},
{"i":981,"b":2.493,"t":11.8,"h":112.3,"c":3.12},{"i":983,"b":2.535,"t":12.2,"h":109.3,"c":2.89},{"i":985,"b":2.470,"t":11.3,"h":111.4,"c":3.58},{"i":987,"b":2.512,"t":12.8,"h":110.1,"c":3.05},{"i":989,"b":2.549,"t":12.0,"h":112.0,"c":3.41},
{"i":991,"b":2.484,"t":11.6,"h":110.6,"c":4.10},{"i":993,"b":2.523,"t":12.5,"h":111.7,"c":4.22},{"i":995,"b":2.497,"t":11.2,"h":109.8,"c":3.33},{"i":997,"b":2.541,"t":12.4,"h":111.2,"c":2.98},{"i":999,"b":2.518,"t":11.4,"h":110.4,"c":3.56},
{"i":2,"b":2.521,"t":12.1,"h":111.5,"c":3.27},{"i":6,"b":2.468,"t":11.6,"h":112.2,"c":2.96},{"i":10,"b":2.503,"t":12.8,"h":110.8,"c":3.54},{"i":14,"b":2.538,"t":11.3,"h":109.7,"c":3.13},{"i":18,"b":2.487,"t":12.5,"h":112.9,"c":3.42},
{"i":22,"b":2.526,"t":11.9,"h":110.4,"c":2.86},{"i":26,"b":2.459,"t":12.3,"h":108.9,"c":3.71},{"i":30,"b":2.512,"t":13.0,"h":111.3,"c":3.19},{"i":34,"b":2.549,"t":11.7,"h":112.6,"c":3.49},{"i":38,"b":2.476,"t":12.2,"h":110.0,"c":2.99},
{"i":42,"b":2.531,"t":11.4,"h":111.9,"c":3.33},{"i":46,"b":2.494,"t":12.6,"h":109.3,"c":3.62},{"i":50,"b":2.462,"t":12.0,"h":112.4,"c":3.08},{"i":54,"b":2.517,"t":11.5,"h":110.6,"c":3.84},{"i":58,"b":2.541,"t":12.9,"h":111.7,"c":3.26},
{"i":62,"b":2.483,"t":10.4,"h":108.4,"c":2.71},{"i":66,"b":2.508,"t":12.4,"h":112.1,"c":3.57},{"i":70,"b":2.552,"t":11.8,"h":110.9,"c":3.15},{"i":74,"b":2.471,"t":12.7,"h":109.5,"c":3.88},{"i":78,"b":2.525,"t":11.2,"h":112.7,"c":3.03},
{"i":82,"b":2.496,"t":12.3,"h":111.1,"c":2.64},{"i":86,"b":2.537,"t":11.6,"h":110.3,"c":3.46},{"i":90,"b":2.465,"t":12.8,"h":112.3,"c":3.24},{"i":94,"b":2.519,"t":12.1,"h":108.7,"c":2.57},{"i":98,"b":2.489,"t":11.4,"h":111.6,"c":3.66},
{"i":102,"b":2.543,"t":12.5,"h":110.2,"c":3.92},{"i":106,"b":2.478,"t":11.9,"h":112.8,"c":3.31},{"i":110,"b":2.514,"t":13.3,"h":109.9,"c":3.77},{"i":114,"b":2.456,"t":12.2,"h":111.4,"c":2.93},{"i":118,"b":2.532,"t":11.7,"h":110.7,"c":3.52},
{"i":122,"b":2.499,"t":12.6,"h":112.0,"c":3.18},{"i":126,"b":2.546,"t":11.3,"h":108.6,"c":3.83},{"i":130,"b":2.472,"t":12.4,"h":111.8,"c":2.66},{"i":134,"b":2.523,"t":12.0,"h":110.1,"c":3.45},{"i":138,"b":2.491,"t":11.5,"h":112.5,"c":3.96},
{"i":142,"b":2.539,"t":12.7,"h":109.2,"c":3.22},{"i":146,"b":2.463,"t":11.8,"h":111.0,"c":3.58},{"i":150,"b":2.515,"t":13.2,"h":112.6,"c":2.89},{"i":154,"b":2.484,"t":12.3,"h":110.5,"c":3.39},{"i":158,"b":2.544,"t":11.6,"h":108.3,"c":3.71},
{"i":162,"b":2.469,"t":12.9,"h":111.6,"c":3.04},{"i":166,"b":2.527,"t":11.9,"h":110.0,"c":3.43},{"i":170,"b":2.498,"t":12.2,"h":112.1,"c":3.69},{"i":174,"b":2.535,"t":11.4,"h":109.6,"c":2.91},{"i":178,"b":2.461,"t":12.6,"h":111.2,"c":3.34},
{"i":182,"b":2.518,"t":12.0,"h":110.6,"c":3.61},{"i":186,"b":2.486,"t":11.7,"h":112.7,"c":3.12},{"i":190,"b":2.548,"t":12.8,"h":108.8,"c":3.53},{"i":194,"b":2.474,"t":11.2,"h":111.5,"c":3.82},{"i":198,"b":2.511,"t":12.4,"h":110.3,"c":3.25},
{"i":202,"b":2.492,"t":11.9,"h":112.3,"c":3.57},{"i":206,"b":2.540,"t":12.6,"h":109.4,"c":3.09},{"i":210,"b":2.466,"t":11.5,"h":111.8,"c":3.38},{"i":214,"b":2.529,"t":12.2,"h":110.9,"c":3.74},{"i":218,"b":2.503,"t":11.8,"h":112.0,"c":2.97},
{"i":222,"b":2.547,"t":12.9,"h":108.5,"c":3.46},{"i":226,"b":2.477,"t":11.3,"h":111.2,"c":3.63},{"i":230,"b":2.514,"t":12.5,"h":110.4,"c":3.21},{"i":234,"b":2.458,"t":12.0,"h":112.6,"c":2.84},{"i":238,"b":2.536,"t":11.6,"h":109.8,"c":3.55},
{"i":242,"b":2.490,"t":12.8,"h":111.4,"c":3.34},{"i":246,"b":2.522,"t":11.2,"h":110.1,"c":3.78},{"i":250,"b":2.468,"t":12.3,"h":112.4,"c":3.05},{"i":254,"b":2.545,"t":11.9,"h":108.9,"c":3.42},{"i":258,"b":2.481,"t":12.7,"h":111.7,"c":3.66},
{"i":262,"b":2.516,"t":11.4,"h":110.6,"c":2.92},{"i":266,"b":2.497,"t":12.1,"h":112.2,"c":3.48},{"i":270,"b":2.538,"t":13.1,"h":109.3,"c":3.28},{"i":274,"b":2.463,"t":11.7,"h":111.0,"c":3.71},{"i":278,"b":2.524,"t":12.4,"h":110.7,"c":3.14},
{"i":282,"b":2.489,"t":11.0,"h":112.8,"c":3.53},{"i":286,"b":2.542,"t":12.6,"h":108.6,"c":3.36},{"i":290,"b":2.475,"t":11.8,"h":111.6,"c":2.77},{"i":294,"b":2.510,"t":12.3,"h":110.2,"c":3.62},{"i":298,"b":2.548,"t":11.5,"h":112.5,"c":3.19},
{"i":302,"b":2.484,"t":12.9,"h":109.7,"c":3.44},{"i":306,"b":2.521,"t":11.9,"h":111.3,"c":3.81},{"i":310,"b":2.460,"t":12.2,"h":110.8,"c":3.07},{"i":314,"b":2.533,"t":11.4,"h":112.0,"c":3.58},{"i":318,"b":2.502,"t":12.7,"h":108.2,"c":3.26},
{"i":322,"b":2.545,"t":12.0,"h":111.9,"c":3.49},{"i":326,"b":2.479,"t":11.6,"h":110.4,"c":2.84},{"i":330,"b":2.517,"t":12.5,"h":112.4,"c":3.67},{"i":334,"b":2.492,"t":11.2,"h":109.0,"c":3.35},{"i":338,"b":2.539,"t":12.8,"h":111.5,"c":3.12},
{"i":342,"b":2.466,"t":12.1,"h":110.1,"c":3.59},{"i":346,"b":2.528,"t":11.7,"h":112.7,"c":3.03},{"i":350,"b":2.499,"t":12.4,"h":108.8,"c":3.41},{"i":354,"b":2.550,"t":11.3,"h":111.1,"c":3.76},{"i":358,"b":2.472,"t":12.6,"h":110.6,"c":3.21},
{"i":362,"b":2.515,"t":11.9,"h":112.3,"c":3.48},{"i":366,"b":2.487,"t":13.2,"h":109.5,"c":2.95},{"i":370,"b":2.536,"t":12.0,"h":111.8,"c":3.62},{"i":374,"b":2.461,"t":11.5,"h":110.0,"c":3.33},{"i":378,"b":2.524,"t":12.7,"h":112.6,"c":3.54},
{"i":382,"b":2.495,"t":12.2,"h":108.4,"c":3.16},{"i":386,"b":2.543,"t":11.6,"h":111.4,"c":3.79},{"i":390,"b":2.476,"t":12.3,"h":110.8,"c":3.38},{"i":394,"b":2.512,"t":11.1,"h":112.1,"c":3.05},{"i":398,"b":2.488,"t":12.8,"h":109.2,"c":3.57},
{"i":402,"b":2.530,"t":12.0,"h":111.0,"c":3.29},{"i":406,"b":2.459,"t":11.7,"h":110.5,"c":3.64},{"i":410,"b":2.521,"t":12.5,"h":112.8,"c":3.11},{"i":414,"b":2.503,"t":11.3,"h":108.7,"c":3.47},{"i":418,"b":2.547,"t":12.2,"h":111.7,"c":3.82},
{"i":422,"b":2.480,"t":11.9,"h":110.3,"c":3.24},{"i":426,"b":2.514,"t":12.9,"h":112.2,"c":2.93},{"i":430,"b":2.493,"t":11.4,"h":109.6,"c":3.55},{"i":434,"b":2.537,"t":12.4,"h":111.3,"c":3.37},{"i":438,"b":2.465,"t":11.8,"h":110.9,"c":3.68},
{"i":442,"b":2.526,"t":12.1,"h":112.5,"c":3.09},{"i":446,"b":2.498,"t":12.7,"h":108.5,"c":3.44},{"i":450,"b":2.541,"t":11.5,"h":111.6,"c":3.76},{"i":454,"b":2.473,"t":12.3,"h":110.2,"c":3.21},{"i":458,"b":2.518,"t":11.9,"h":112.4,"c":3.52},
{"i":462,"b":2.486,"t":12.6,"h":109.3,"c":2.98},{"i":466,"b":2.544,"t":11.2,"h":111.2,"c":3.41},{"i":470,"b":2.462,"t":12.0,"h":110.7,"c":3.65},{"i":474,"b":2.529,"t":12.8,"h":112.7,"c":3.17},{"i":478,"b":2.501,"t":11.6,"h":108.9,"c":3.49},
{"i":482,"b":2.548,"t":12.3,"h":111.9,"c":3.71},{"i":486,"b":2.477,"t":11.9,"h":110.4,"c":3.08},{"i":490,"b":2.513,"t":12.5,"h":112.1,"c":3.36},{"i":494,"b":2.490,"t":11.3,"h":109.7,"c":3.58},{"i":498,"b":2.534,"t":12.2,"h":111.4,"c":3.25},
{"i":502,"b":2.468,"t":12.9,"h":110.0,"c":3.63},{"i":506,"b":2.525,"t":11.7,"h":112.6,"c":3.14},{"i":510,"b":2.497,"t":12.4,"h":108.3,"c":3.47},{"i":514,"b":2.540,"t":11.5,"h":111.5,"c":3.69},{"i":518,"b":2.474,"t":12.1,"h":110.8,"c":3.03},
{"i":522,"b":2.516,"t":12.7,"h":112.3,"c":3.39},{"i":526,"b":2.485,"t":11.8,"h":109.5,"c":3.61},{"i":530,"b":2.545,"t":12.3,"h":111.1,"c":3.22},{"i":534,"b":2.463,"t":11.4,"h":110.6,"c":3.52},{"i":538,"b":2.527,"t":12.6,"h":112.8,"c":3.34},
{"i":542,"b":2.500,"t":12.0,"h":108.6,"c":3.73},{"i":546,"b":2.542,"t":11.6,"h":111.8,"c":3.12},{"i":550,"b":2.479,"t":12.8,"h":110.3,"c":3.46},{"i":554,"b":2.511,"t":12.2,"h":112.0,"c":2.94},{"i":558,"b":2.491,"t":11.9,"h":109.8,"c":3.57},
{"i":562,"b":2.536,"t":12.5,"h":111.3,"c":3.29},{"i":566,"b":2.466,"t":11.2,"h":110.9,"c":3.65},{"i":570,"b":2.522,"t":12.3,"h":112.5,"c":3.18},{"i":574,"b":2.496,"t":11.8,"h":108.8,"c":3.41},{"i":578,"b":2.549,"t":12.7,"h":111.6,"c":3.74},
{"i":582,"b":2.481,"t":12.1,"h":110.1,"c":3.06},{"i":586,"b":2.514,"t":11.5,"h":112.2,"c":3.38},{"i":590,"b":2.488,"t":12.4,"h":109.4,"c":3.59},{"i":594,"b":2.533,"t":11.7,"h":111.0,"c":3.23},{"i":598,"b":2.460,"t":12.9,"h":110.5,"c":2.45},
{"i":602,"b":2.524,"t":12.2,"h":112.7,"c":3.51},{"i":606,"b":2.502,"t":11.9,"h":108.4,"c":3.27},{"i":610,"b":2.546,"t":12.6,"h":111.5,"c":3.64},{"i":614,"b":2.478,"t":11.3,"h":110.7,"c":3.13},{"i":618,"b":2.517,"t":12.3,"h":112.1,"c":3.42},
{"i":622,"b":2.489,"t":11.8,"h":109.6,"c":3.19},{"i":626,"b":2.539,"t":12.5,"h":111.2,"c":3.55},{"i":630,"b":2.467,"t":12.0,"h":110.2,"c":2.92},{"i":634,"b":2.528,"t":11.6,"h":112.4,"c":3.35},{"i":638,"b":2.498,"t":12.8,"h":108.7,"c":3.08},
{"i":642,"b":2.543,"t":12.1,"h":111.7,"c":3.47},{"i":646,"b":2.474,"t":11.5,"h":110.4,"c":3.21},{"i":650,"b":2.512,"t":12.4,"h":112.9,"c":3.63},{"i":654,"b":2.486,"t":11.9,"h":109.1,"c":3.02},{"i":658,"b":2.535,"t":12.7,"h":111.4,"c":3.36},
{"i":662,"b":2.463,"t":12.2,"h":110.8,"c":3.58},{"i":666,"b":2.526,"t":11.4,"h":112.3,"c":3.15},{"i":670,"b":2.495,"t":12.6,"h":108.9,"c":3.44},{"i":674,"b":2.548,"t":11.8,"h":111.9,"c":3.27},{"i":678,"b":2.479,"t":12.3,"h":110.0,"c":3.66},
{"i":682,"b":2.518,"t":11.6,"h":112.6,"c":3.09},{"i":686,"b":2.490,"t":12.9,"h":109.7,"c":3.41},{"i":690,"b":2.537,"t":12.0,"h":111.3,"c":3.23},{"i":694,"b":2.466,"t":11.7,"h":110.6,"c":3.56},{"i":698,"b":2.523,"t":12.5,"h":112.2,"c":3.12},
{"i":702,"b":2.500,"t":11.3,"h":108.5,"c":3.38},{"i":706,"b":2.541,"t":12.2,"h":111.8,"c":3.71},{"i":710,"b":2.475,"t":11.9,"h":110.3,"c":3.18},{"i":714,"b":2.513,"t":12.8,"h":112.5,"c":3.49},{"i":718,"b":2.488,"t":12.1,"h":109.4,"c":3.03},
{"i":722,"b":2.532,"t":11.5,"h":111.1,"c":3.34},{"i":726,"b":2.461,"t":12.4,"h":110.7,"c":3.62},{"i":730,"b":2.527,"t":11.8,"h":112.0,"c":3.26},{"i":734,"b":2.497,"t":12.6,"h":108.6,"c":3.52},{"i":738,"b":2.545,"t":12.0,"h":111.5,"c":3.15},
{"i":742,"b":2.472,"t":11.6,"h":110.2,"c":3.44},{"i":746,"b":2.516,"t":12.3,"h":112.7,"c":3.78},{"i":750,"b":2.491,"t":11.2,"h":109.9,"c":3.21},{"i":754,"b":2.539,"t":12.7,"h":111.2,"c":3.58},{"i":758,"b":2.464,"t":12.1,"h":110.5,"c":3.07},
{"i":762,"b":2.525,"t":11.7,"h":112.4,"c":3.39},{"i":766,"b":2.503,"t":12.4,"h":108.8,"c":3.64},{"i":770,"b":2.547,"t":11.9,"h":111.7,"c":3.28},{"i":774,"b":2.480,"t":12.8,"h":110.1,"c":3.51},{"i":778,"b":2.514,"t":12.2,"h":112.1,"c":3.14},
{"i":782,"b":2.487,"t":11.4,"h":109.2,"c":3.46},{"i":786,"b":2.534,"t":12.5,"h":111.4,"c":3.69},{"i":790,"b":2.469,"t":11.8,"h":110.8,"c":3.05},{"i":794,"b":2.521,"t":12.3,"h":112.6,"c":3.33},{"i":798,"b":2.498,"t":11.6,"h":108.4,"c":3.61},
{"i":802,"b":2.543,"t":12.9,"h":111.0,"c":3.22},{"i":806,"b":2.476,"t":12.0,"h":110.4,"c":3.49},{"i":810,"b":2.512,"t":11.7,"h":112.3,"c":3.11},{"i":814,"b":2.489,"t":12.6,"h":109.7,"c":3.58},{"i":818,"b":2.538,"t":11.3,"h":111.6,"c":3.27},
{"i":822,"b":2.462,"t":12.2,"h":110.0,"c":3.43},{"i":826,"b":2.527,"t":11.9,"h":112.8,"c":3.67},{"i":830,"b":2.499,"t":12.7,"h":108.9,"c":3.17},{"i":834,"b":2.546,"t":12.1,"h":111.2,"c":3.39},{"i":838,"b":2.478,"t":11.5,"h":110.6,"c":3.72},
{"i":842,"b":2.516,"t":12.4,"h":112.0,"c":3.06},{"i":846,"b":2.492,"t":11.8,"h":109.3,"c":3.36},{"i":850,"b":2.535,"t":12.8,"h":111.8,"c":3.55},{"i":854,"b":2.465,"t":12.0,"h":110.3,"c":3.21},{"i":858,"b":2.524,"t":11.6,"h":112.5,"c":3.48},
{"i":862,"b":2.501,"t":12.3,"h":108.6,"c":3.12},{"i":866,"b":2.549,"t":11.9,"h":111.4,"c":3.41},{"i":870,"b":2.481,"t":12.6,"h":110.9,"c":3.64},{"i":874,"b":2.517,"t":11.4,"h":112.2,"c":3.02},{"i":878,"b":2.487,"t":12.2,"h":109.5,"c":3.35},
{"i":882,"b":2.533,"t":11.8,"h":111.0,"c":3.59},{"i":886,"b":2.468,"t":12.7,"h":110.5,"c":3.24},{"i":890,"b":2.522,"t":12.1,"h":112.6,"c":3.46},{"i":894,"b":2.496,"t":11.5,"h":108.7,"c":3.13},{"i":898,"b":2.544,"t":12.4,"h":111.6,"c":3.38},
{"i":902,"b":2.473,"t":11.9,"h":110.1,"c":3.71},{"i":906,"b":2.513,"t":12.8,"h":112.3,"c":3.07},{"i":910,"b":2.489,"t":12.0,"h":109.2,"c":3.44},{"i":914,"b":2.536,"t":11.6,"h":111.3,"c":3.26},{"i":918,"b":2.461,"t":12.3,"h":110.8,"c":3.53},
{"i":922,"b":2.526,"t":11.8,"h":112.7,"c":3.16},{"i":926,"b":2.500,"t":12.5,"h":108.8,"c":3.39},{"i":930,"b":2.547,"t":11.3,"h":111.7,"c":3.62},{"i":934,"b":2.479,"t":12.2,"h":110.2,"c":3.08},{"i":938,"b":2.515,"t":11.9,"h":112.1,"c":3.47},
{"i":942,"b":2.490,"t":12.7,"h":109.6,"c":3.29},{"i":946,"b":2.538,"t":12.0,"h":111.2,"c":3.57},{"i":950,"b":2.467,"t":11.5,"h":110.6,"c":3.13},{"i":954,"b":2.524,"t":12.4,"h":112.4,"c":3.41},{"i":958,"b":2.497,"t":11.7,"h":108.5,"c":3.66},
{"i":962,"b":2.542,"t":12.6,"h":111.8,"c":3.22},{"i":966,"b":2.476,"t":12.1,"h":110.4,"c":3.49},{"i":970,"b":2.514,"t":11.4,"h":112.6,"c":3.03},{"i":974,"b":2.486,"t":12.3,"h":109.4,"c":3.37},{"i":978,"b":2.532,"t":11.8,"h":111.1,"c":3.58},
{"i":982,"b":2.463,"t":12.8,"h":110.7,"c":3.19},{"i":986,"b":2.527,"t":12.2,"h":112.2,"c":3.45},{"i":990,"b":2.501,"t":11.6,"h":109.8,"c":3.28},{"i":994,"b":2.545,"t":12.5,"h":111.5,"c":3.61},{"i":998,"b":2.482,"t":11.9,"h":110.9,"c":3.34}
]},
"vconcat": [
 {"width": 575, "height": 93,
  "layer": [
   {"data": {"name": "runs"},
    "mark": {"type": "point", "color": "#ff00ff"},
    "encoding": {
     "x": {"field": "i", "type": "quantitative", "scale": {"domain": [0, 1000], "nice": false}, "axis": {"values": [0,200,400,600,800,1000], "tickCount": 12, "format": "d", "title": null, "labelPadding": 18, "labelOverlap": false}},
     "y": {"field": "b", "type": "quantitative", "scale": {"domain": [2.4, 2.617], "nice": false, "zero": false}, "axis": {"values": [2.4,2.5,2.6], "tickCount": 12, "format": ".1f", "title": "B (in T)", "titleX": -54, "labelPadding": 11, "labelOverlap": false}}
    }},
   {"data": {"values": [{}]}, "mark": {"type": "rule", "color": "#000000", "strokeWidth": 1.8}, "encoding": {"y": {"datum": 2.5}}}
  ]},
 {"width": 575, "height": 93,
  "layer": [
   {"data": {"name": "runs"},
    "mark": {"type": "point", "color": "#ff0000"},
    "encoding": {
     "x": {"field": "i", "type": "quantitative", "scale": {"domain": [0, 1000], "nice": false}, "axis": {"values": [0,200,400,600,800,1000], "tickCount": 12, "format": "d", "title": null, "labelPadding": 18, "labelOverlap": false}},
     "y": {"field": "t", "type": "quantitative", "scale": {"domain": [9.79, 15], "nice": false, "zero": false}, "axis": {"values": [10,15], "tickCount": 12, "format": "d", "title": "Tᵢ (in eV)", "titleX": -52, "labelPadding": 11, "labelOverlap": false}}
    }},
   {"data": {"values": [{}]}, "mark": {"type": "rule", "color": "#000000", "strokeWidth": 1.8}, "encoding": {"y": {"datum": 12}}}
  ]},
 {"width": 575, "height": 92,
  "layer": [
   {"data": {"name": "runs"},
    "mark": {"type": "point", "color": "#0000ff"},
    "encoding": {
     "x": {"field": "i", "type": "quantitative", "scale": {"domain": [0, 1000], "nice": false}, "axis": {"values": [0,200,400,600,800,1000], "tickCount": 12, "format": "d", "title": null, "labelPadding": 18, "labelOverlap": false}},
     "y": {"field": "h", "type": "quantitative", "scale": {"domain": [103.6, 114.7], "nice": false, "zero": false}, "axis": {"values": [104,106,108,110,112,114], "tickCount": 12, "format": "d", "title": "θ (in degree)", "titleX": -54, "labelPadding": 11, "labelOverlap": false, "labelFontSize": 16}}
    }},
   {"data": {"values": [{}]}, "mark": {"type": "rule", "color": "#000000", "strokeWidth": 1.8}, "encoding": {"y": {"datum": 110}}}
  ]},
 {"width": 575, "height": 93,
  "layer": [
   {"data": {"name": "runs"},
    "mark": {"type": "point", "color": "#000000"},
    "encoding": {
     "x": {"field": "i", "type": "quantitative", "scale": {"domain": [0, 1000], "nice": false}, "axis": {"values": [0,200,400,600,800,1000], "tickCount": 12, "format": "d", "title": "number of iterations", "titleY": 52, "titleBaseline": "alphabetic", "labelPadding": 16, "labelOverlap": false}},
     "y": {"field": "c", "type": "quantitative", "scale": {"domain": [2, 4.52], "nice": false, "zero": false}, "axis": {"values": [2,3,4], "tickCount": 12, "format": "d", "title": "χ²", "titleX": -29, "titleFontWeight": "normal", "labelPadding": 11, "labelOverlap": false}}
    }}
  ]}
]
}
